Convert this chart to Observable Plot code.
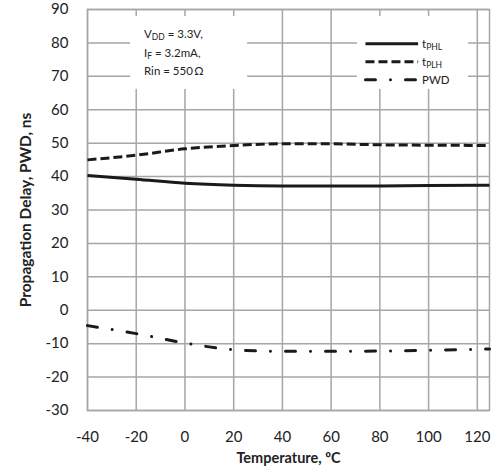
<!DOCTYPE html>
<html><head><meta charset="utf-8">
<script src="https://cdn.jsdelivr.net/npm/d3@7"></script>
<script src="https://cdn.jsdelivr.net/npm/@observablehq/plot@0.6"></script>
<style>body{margin:0;background:#fff}svg{display:block}</style>
</head><body><div id="chart"></div>
<script>
const temps = [-40, -20, 0, 20, 40, 60, 80, 100, 125];
const tPHL = [40.3, 39.2, 38.0, 37.4, 37.2, 37.2, 37.2, 37.3, 37.4];
const tPLH = [45.0, 46.4, 48.3, 49.3, 49.8, 49.8, 49.5, 49.4, 49.3];
const PWD  = [-4.6, -7.0, -9.8, -11.8, -12.3, -12.3, -12.2, -12.0, -11.6];
const xTicks = [-40, -20, 0, 20, 40, 60, 80, 100, 120];
const yTicks = [-30, -20, -10, 0, 10, 20, 30, 40, 50, 60, 70, 80, 90];
const seriesNames = ["tPHL", "tPLH", "PWD"];
const seriesValues = [tPHL, tPLH, PWD];
const annotation = [["V", "DD", " = 3.3V,"], ["I", "F", " = 3.2mA,"], ["Rin = 550\u2009\u03A9", "", ""]];
const legendLabels = [["t", "PHL"], ["t", "PLH"], ["PWD", ""]];

const rows = [];
seriesNames.forEach((s, i) => temps.forEach((t, j) => rows.push({series: s, t, v: seriesValues[i][j]})));

const dashes = {tPHL: null, tPLH: "9,4", PWD: "10,15,0.01,15"};
const caps = {tPHL: "butt", tPLH: "butt", PWD: "round"};
const font = "Lato, 'Open Sans', sans-serif";
const grid = "#a6a6a6";
const boxes = [
  {x1: -22.3, x2: 25.7, y1: 66.1, y2: 87.9},
  {x1: 70.8, x2: 116.4, y1: 66.1, y2: 87.9}
];

const lineMarks = seriesNames.map(s => Plot.line(rows.filter(r => r.series === s), {
  x: "t", y: "v", stroke: "#1a1a1a", strokeWidth: 3, curve: "monotone-x",
  strokeDasharray: dashes[s], strokeLinecap: caps[s]
}));

const plot = Plot.plot({
  width: 496, height: 468,
  marginLeft: 87, marginRight: 7, marginTop: 9, marginBottom: 58,
  style: {fontFamily: font, fontSize: "15px", color: "#222", background: "#fff"},
  x: {domain: [-40, 125], ticks: xTicks, tickFormat: d => String(d), tickSize: 0, tickPadding: 21, label: "Temperature, \u00BAC", labelAnchor: "center", labelArrow: "none", labelOffset: 52},
  y: {domain: [-30, 90], ticks: yTicks, tickFormat: d => String(d), tickSize: 0, tickPadding: 19, label: "Propagation Delay, PWD, ns", labelAnchor: "center", labelArrow: "none", labelOffset: 68},
  marks: [
    Plot.gridX(xTicks, {stroke: grid, strokeOpacity: 1, strokeWidth: 1.5}),
    Plot.gridY(yTicks, {stroke: grid, strokeOpacity: 1, strokeWidth: 1.5}),
    Plot.frame({stroke: grid, strokeWidth: 1.5}),
    ...lineMarks
  ]
});
document.getElementById("chart").append(plot);

const svg = d3.select(plot);
svg.selectAll("g[aria-label='x-axis label'] text").attr("font-weight", "bold").attr("font-size", "14.5px");
svg.selectAll("g[aria-label='y-axis label'] text").attr("font-weight", "bold").attr("font-size", "15.5px");
const xs = plot.scale("x"), ys = plot.scale("y");

// white boxes behind annotation and legend (inserted before the line marks)
const firstLine = svg.select("g[aria-label='line']").node();
boxes.forEach(b => {
  const r = document.createElementNS("http://www.w3.org/2000/svg", "rect");
  const x1 = xs.apply(b.x1), x2 = xs.apply(b.x2), y1 = ys.apply(b.y2), y2 = ys.apply(b.y1);
  r.setAttribute("x", x1); r.setAttribute("y", y1);
  r.setAttribute("width", x2 - x1); r.setAttribute("height", y2 - y1);
  r.setAttribute("fill", "#ffffff");
  plot.insertBefore(r, firstLine);
});

// annotation
const annY = [82.5, 76.9, 71.5];
annotation.forEach((a, i) => {
  const t = svg.append("text").attr("x", xs.apply(-16.6)).attr("y", ys.apply(annY[i]))
    .attr("dy", "0.35em").attr("text-anchor", "start").attr("font-family", font).attr("font-size", "11.5px").attr("fill", "#222");
  t.append("tspan").text(a[0]);
  if (a[1]) t.append("tspan").attr("font-size", "8.5px").attr("dy", "2").text(a[1]);
  if (a[2]) t.append("tspan").attr("dy", a[1] ? "-2" : "0").text(a[2]);
});

// legend
const legY = [79.6, 74.2, 68.8];
seriesNames.forEach((s, i) => {
  const y = ys.apply(legY[i]);
  svg.append("line").attr("x1", xs.apply(74.3)).attr("x2", xs.apply(95.9)).attr("y1", y).attr("y2", y)
    .attr("stroke", "#1a1a1a").attr("stroke-width", 3)
    .attr("stroke-dasharray", dashes[s]).attr("stroke-linecap", caps[s]);
  const t = svg.append("text").attr("x", xs.apply(97.5)).attr("y", y).attr("dy", "0.35em").attr("text-anchor", "start")
    .attr("font-family", font).attr("font-size", "11.5px").attr("fill", "#222");
  t.append("tspan").text(legendLabels[i][0]);
  if (legendLabels[i][1]) t.append("tspan").attr("font-size", "8.5px").attr("dy", "2").text(legendLabels[i][1]);
});
</script></body></html>
